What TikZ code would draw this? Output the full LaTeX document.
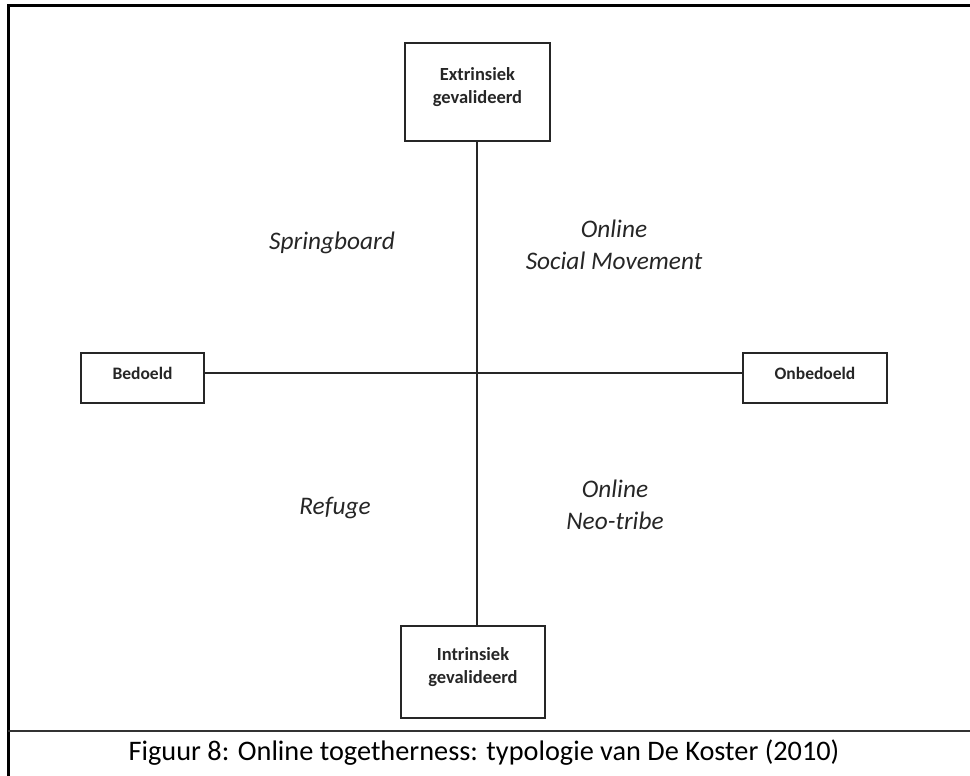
\documentclass[tikz,border=0pt]{standalone}
\usepackage{fontspec}
\setmainfont{Carlito}
\begin{document}
\begin{tikzpicture}[x=1pt,y=-1pt,
  box/.style={draw=black!85, line width=1.8pt, rectangle, inner sep=0pt},
  boxtext/.style={font=\fontsize{18.5}{22.5}\selectfont\bfseries, text=black!85, align=center, inner sep=0pt},
  sidetext/.style={font=\fontsize{17.5}{22}\selectfont\bfseries, text=black!85, inner sep=0pt, anchor=base},
  quad/.style={font=\fontsize{25.3}{32.5}\selectfont\itshape, text=black!85, align=center, inner sep=0pt},
  axis/.style={draw=black!85, line width=1.8pt},
  frame/.style={draw=black, line width=3pt}]
\useasboundingbox (0,0) rectangle (970,776);
% outer frame and caption divider
\coordinate (fl) at (8,776);
\coordinate (ft) at (8,6);
\coordinate (fr) at (972,6);
\coordinate (cl) at (8,731);
\coordinate (cr) at (972,731);
\draw[frame] (fl) -- (ft) -- (fr);
\draw[draw=black!80, line width=2.2pt] (cl) -- (cr);
% axis end boxes
\node[box, minimum width=145pt, minimum height=98pt] (top) at (477.5,92) {};
\node[box, minimum width=144pt, minimum height=92pt] (bot) at (473,672) {};
\node[box, minimum width=123pt, minimum height=50pt] (bed) at (142.5,378) {};
\node[box, minimum width=144pt, minimum height=50pt] (onb) at (815,378) {};
% box labels
\node[boxtext] (topt) at (477.5,87) {Extrinsiek\\gevalideerd};
\node[boxtext] (bott) at (473,667) {Intrinsiek\\gevalideerd};
\node[sidetext] (bedt) at (142.5,379) {Bedoeld};
\node[sidetext] (onbt) at (815,379) {Onbedoeld};
% axes
\coordinate (vx) at (477,0);
\coordinate (hy) at (0,373);
\draw[axis] (vx |- top.south) -- (vx |- bot.north);
\draw[axis] (bed.east |- hy) -- (onb.west |- hy);
% quadrant labels
\node[quad] (spr) at (332,243) {Springboard};
\node[quad] (osm) at (614,245) {Online\\Social Movement};
\node[quad] (ref) at (335,508) {Refuge};
\node[quad] (ont) at (615,505) {Online\\Neo-tribe};
% caption
\node[font=\fontsize{28.3}{34}\selectfont, inner sep=0pt] (cap) at (484,753) {Figuur 8: Online togetherness: typologie van De Koster (2010)};
\end{tikzpicture}
\end{document}
